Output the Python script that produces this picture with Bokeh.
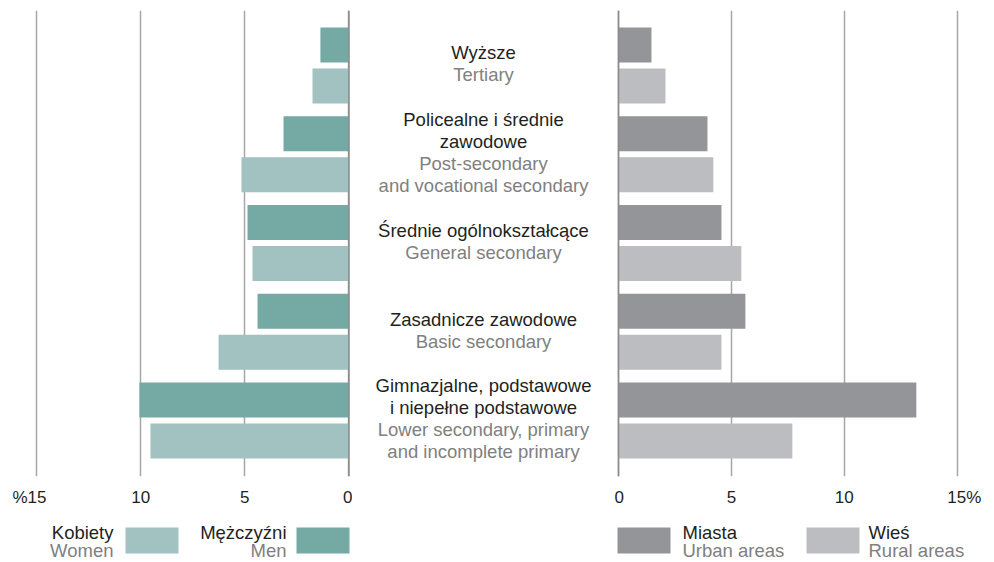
from bokeh.plotting import figure
from bokeh.models import Range1d, FixedTicker, Span, ColumnDataSource
from bokeh.layouts import row, column
from bokeh.embed import file_html
from bokeh.resources import INLINE
from bokeh.core.properties import value

# ---------------- data ----------------
levels_pl = ["Wyższe", "Policealne i średnie\nzawodowe", "Średnie ogólnokształcące",
             "Zasadnicze zawodowe", "Gimnazjalne, podstawowe\ni niepełne podstawowe"]
levels_en = ["Tertiary", "Post-secondary\nand vocational secondary", "General secondary",
             "Basic secondary", "Lower secondary, primary\nand incomplete primary"]
men = [1.37, 3.14, 4.87, 4.39, 10.06]
women = [1.75, 5.16, 4.63, 6.26, 9.53]
urban = [1.46, 3.94, 4.56, 5.62, 13.19]
rural = [2.08, 4.20, 5.44, 4.56, 7.70]
left_ticks = [15, 10, 5, 0]
left_tick_labels = ["%15", "10", "5", "0"]
right_ticks = [0, 5, 10, 15]
right_tick_labels = ["0", "5", "10", "15%"]
legend_pl = ["Kobiety", "Mężczyźni", "Miasta", "Wieś"]
legend_en = ["Women", "Men", "Urban areas", "Rural areas"]

# ---------------- styles ----------------
FONT_NAME = "Liberation Sans"
FONT = value(FONT_NAME)
C_MEN, C_WOMEN = "#74a9a4", "#a1c2c1"
C_URBAN, C_RURAL = "#949599", "#bcbdc1"
C_TEXT, C_SUB = "#231f20", "#808080"
C_GRID, C_ZERO = "#a6a6a6", "#8a8a8a"
TXT_SIZE = "18.5px"
PAD = "\u00a0" * 3  # keeps the number centred on its tick, with the % sign hanging out

TOP_H = 516
LEG_H = 46
OFF = 0.231
BAR_H = 0.394
yr = Range1d(4.631, -0.619)
idx = list(range(len(men)))


def padded(lab):
    if lab.startswith("%"):
        return lab + PAD
    if lab.endswith("%"):
        return PAD + lab
    return lab


def bar_fig(width, xr, ticks, labels, bl, br, first, second, c1, c2):
    p = figure(width=width, height=TOP_H, x_range=xr, y_range=yr,
               output_backend="svg", toolbar_location=None,
               min_border_left=bl, min_border_right=br,
               min_border_top=10, min_border_bottom=40,
               y_axis_location=None)
    p.outline_line_color = None
    p.ygrid.visible = False
    ax = p.xaxis[0]
    ax.ticker = FixedTicker(ticks=ticks)
    ax.major_label_overrides = {t: padded(l) for t, l in zip(ticks, labels)}
    ax.axis_line_color = None
    ax.major_tick_line_color = None
    ax.minor_tick_line_color = None
    ax.major_tick_out = 0
    ax.major_tick_in = 0
    ax.major_label_standoff = 11
    ax.major_label_text_font = FONT_NAME
    ax.major_label_text_font_size = "17px"
    ax.major_label_text_color = C_TEXT
    p.xgrid.grid_line_color = C_GRID
    p.xgrid.grid_line_width = 1.5
    p.hbar(y=[i - OFF for i in idx], left=0, right=first, height=BAR_H,
           fill_color=c1, line_color=None)
    p.hbar(y=[i + OFF for i in idx], left=0, right=second, height=BAR_H,
           fill_color=c2, line_color=None)
    p.add_layout(Span(location=0, dimension="height", line_color=C_ZERO, line_width=1.5))
    return p


left = bar_fig(352, Range1d(15.48, -0.17), left_ticks, left_tick_labels, 26, 0,
               men, women, C_MEN, C_WOMEN)
right = bar_fig(380, Range1d(-0.177, 15.235), right_ticks, right_tick_labels, 0, 32,
                urban, rural, C_URBAN, C_RURAL)

# middle labels
mid = figure(width=262, height=TOP_H, x_range=Range1d(0, 1), y_range=yr,
             output_backend="svg", toolbar_location=None,
             min_border_left=0, min_border_right=0, min_border_top=10, min_border_bottom=40,
             x_axis_location=None, y_axis_location=None)
mid.outline_line_color = None
mid.grid.visible = False
ys, txts, cols, offs = [], [], [], []
LINE = 22
for i, (pl, en) in enumerate(zip(levels_pl, levels_en)):
    lines = [(t, C_TEXT) for t in pl.split("\n")] + [(t, C_SUB) for t in en.split("\n")]
    n = len(lines)
    for k, (t, c) in enumerate(lines):
        ys.append(i)
        txts.append(t)
        cols.append(c)
        offs.append((k - (n - 1) / 2) * LINE - 1.5)
src = ColumnDataSource(dict(x=[0.5] * len(ys), y=ys, text=txts, color=cols, off=offs))
mid.text(x="x", y="y", text="text", source=src, text_color="color", y_offset="off",
         text_align="center", text_baseline="middle", text_font=FONT,
         text_font_size=TXT_SIZE)

# legend row
leg = figure(width=994, height=LEG_H, x_range=Range1d(0, 994), y_range=Range1d(LEG_H, 0),
             output_backend="svg", toolbar_location=None,
             min_border_left=0, min_border_right=0, min_border_top=0, min_border_bottom=0,
             x_axis_location=None, y_axis_location=None)
leg.outline_line_color = None
leg.grid.visible = False
sw_left = [125, 296, 617, 806]
sw_colors = [C_WOMEN, C_MEN, C_URBAN, C_RURAL]
leg.quad(left=sw_left, right=[x + 53 for x in sw_left], top=[11] * 4, bottom=[37] * 4,
         fill_color=sw_colors, line_color=None)
tx = [113, 286, 682, 868]
ta = ["right", "right", "left", "left"]
lsrc = ColumnDataSource(dict(x=tx + tx, y=[16] * 4 + [34] * 4, text=legend_pl + legend_en,
                             color=[C_TEXT] * 4 + [C_SUB] * 4, align=ta + ta))
leg.text(x="x", y="y", text="text", source=lsrc, text_color="color", text_align="align",
         text_baseline="middle", text_font=FONT, text_font_size=TXT_SIZE)

layout = column(row(left, mid, right), leg)
open("out.html", "w").write(file_html(layout, INLINE))
